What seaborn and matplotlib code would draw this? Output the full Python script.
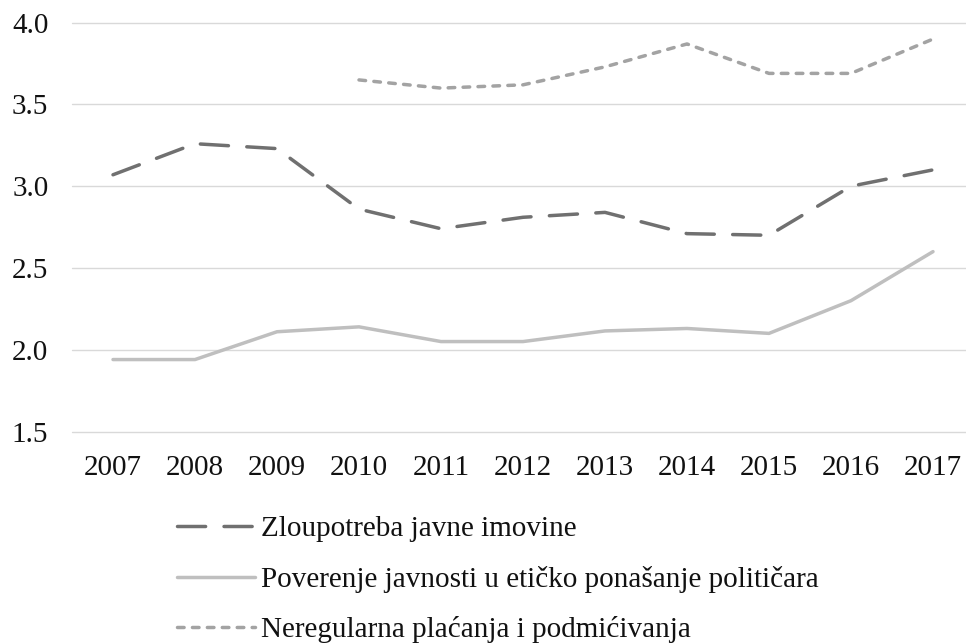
import numpy as np
import pandas as pd
import matplotlib
matplotlib.use("Agg")
import matplotlib.pyplot as plt
import seaborn as sns

years = [2007, 2008, 2009, 2010, 2011, 2012, 2013, 2014, 2015, 2016, 2017]
zloupotreba = [3.07, 3.26, 3.23, 2.86, 2.74, 2.81, 2.84, 2.71, 2.70, 3.00, 3.10]
poverenje = [1.94, 1.94, 2.11, 2.14, 2.05, 2.05, 2.115, 2.13, 2.10, 2.30, 2.60]
neregularna = [np.nan, np.nan, np.nan, 3.65, 3.60, 3.62, 3.73, 3.87, 3.69, 3.69, 3.90]

labels = ["Zloupotreba javne imovine",
          "Poverenje javnosti u etičko ponašanje političara",
          "Neregularna plaćanja i podmićivanja"]
yticks = [1.5, 2.0, 2.5, 3.0, 3.5, 4.0]

sns.set_theme(style="white")
plt.rcParams['font.family'] = ['Liberation Serif', 'DejaVu Serif']

fig = plt.figure(figsize=(9.66, 6.43), dpi=100)
ax = fig.add_axes([72/966, 1-431.5/643, 902/966, (431.5-22.7)/643])

df = pd.DataFrame({"year": years, labels[0]: zloupotreba,
                   labels[1]: poverenje, labels[2]: neregularna})

styles = [
    dict(color="#707070", dashes=(8.1, 5.3)),
    dict(color="#bfbfbf", dashes=None),
    dict(color="#a3a3a3", dashes=(1.9, 2.4)),
]
lw = 2.5
for lab, st in zip(labels, styles):
    sub = df[["year", lab]].dropna()
    sns.lineplot(x=sub["year"], y=sub[lab], ax=ax, color=st["color"], lw=lw,
                 label=lab, solid_capstyle="round", dash_capstyle="round")
    line = ax.get_lines()[-1]
    if st["dashes"] is not None:
        line.set_dashes(st["dashes"])

ax.set_xlim(years[0]-0.5, years[-1]+0.5)
ax.set_ylim(1.5, 4.0)
ax.set_yticks(yticks)
ax.set_yticklabels([f"{v:.1f}" for v in yticks])
ax.set_xticks(years)
ax.set_xticklabels([str(y) for y in years])
ax.set_xlabel("")
ax.set_ylabel("")
for s in ax.spines.values():
    s.set_visible(False)
ax.grid(axis="y", color="#d9d9d9", lw=1.0)
ax.grid(axis="x", visible=False)
for gl in ax.yaxis.get_gridlines():
    gl.set_clip_on(False)
ax.set_axisbelow(True)
ax.tick_params(axis="y", length=0, pad=17, labelsize=21, labelcolor="#111111")
ax.tick_params(axis="x", length=0, pad=17, labelsize=21, labelcolor="#111111")

ax.get_legend().remove()
handles = ax.get_lines()[:3]
fig.legend(handles, labels, loc="upper left",
           bbox_to_anchor=(176.7/966, 1-516/643), frameon=False,
           fontsize=21, borderpad=0, borderaxespad=0, handlelength=2.7,
           handletextpad=0.18, labelspacing=0.8, labelcolor="#111111")

fig.savefig("out.png", dpi=100)
